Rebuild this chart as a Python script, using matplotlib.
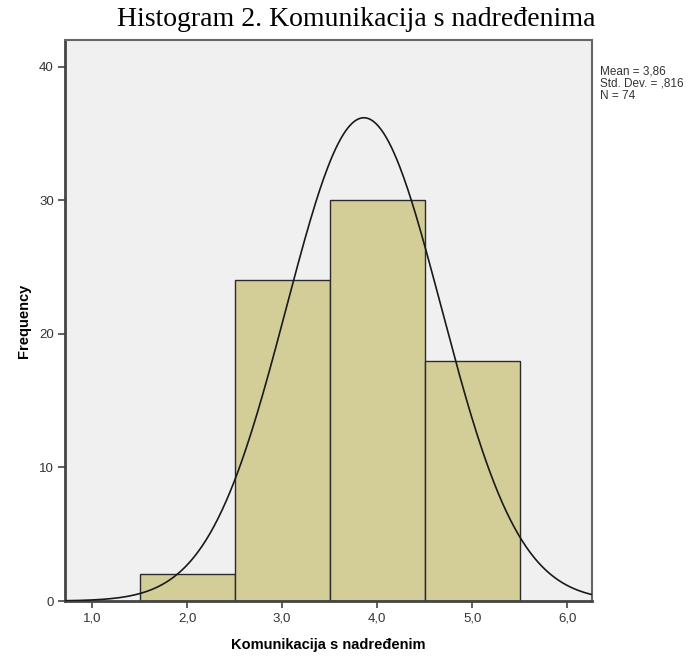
import matplotlib.pyplot as plt
import numpy as np

# Frekvencije po razredima (širina razreda 1)
centri = [2.0, 3.0, 4.0, 5.0]
frekvencije = [2, 24, 30, 18]
srednja = 3.86
std_dev = 0.816
n = 74
x_oznake = ['1,0', '2,0', '3,0', '4,0', '5,0', '6,0']
x_tickovi = [1.0, 2.0, 3.0, 4.0, 5.0, 6.0]
y_tickovi = [0, 10, 20, 30, 40]

fig = plt.figure(figsize=(7, 6.59), dpi=100)
ax = fig.add_axes([65 / 700, 1 - 601 / 659, 527 / 700, 561 / 659])
ax.set_facecolor('#f0f0f0')

ax.bar(centri, frekvencije, width=1.0, color='#d3ce97', edgecolor='#2b2b2b', linewidth=1.0, zorder=2)

# Normalna krivulja skalirana na broj slučajeva
xs = np.linspace(0.7, 6.3, 400)
ys = n * 1.0 / (std_dev * np.sqrt(2 * np.pi)) * np.exp(-0.5 * ((xs - srednja) / std_dev) ** 2)
ax.plot(xs, ys, color='#1a1a1a', linewidth=1.2, zorder=3)

ax.set_xlim(0.716, 6.26)
ax.set_ylim(0, 42.0)
ax.set_xticks(x_tickovi)
ax.set_xticklabels(x_oznake)
ax.set_yticks(y_tickovi)
ax.tick_params(axis='both', direction='out', length=5, width=1.2, color='#444444',
               labelsize=9.5, labelcolor='#333333', pad=3)
for side in ['left', 'bottom']:
    ax.spines[side].set_linewidth(2)
    ax.spines[side].set_color('#444444')
for side in ['top', 'right']:
    ax.spines[side].set_linewidth(1.5)
    ax.spines[side].set_color('#666666')

ax.set_xlabel('Komunikacija s nadređenim', fontsize=10.5, fontweight='bold',
              family='Liberation Sans', labelpad=10)
ax.set_ylabel('Frequency', fontsize=10.5, fontweight='bold', family='Liberation Sans', labelpad=6)
for lbl in ax.get_xticklabels() + ax.get_yticklabels():
    lbl.set_family('Liberation Sans')

fig.text(356 / 700, 1 - 19 / 659, 'Histogram 2. Komunikacija s nadređenima', ha='center', va='center',
         fontsize=20, family='Liberation Serif')
fig.text(600 / 700, 1 - 66 / 659, 'Mean = 3,86\nStd. Dev. = ,816\nN = 74', ha='left', va='top',
         fontsize=8.5, family='Liberation Sans', color='#333333', linespacing=1.0)

fig.savefig('out.png', dpi=100)
